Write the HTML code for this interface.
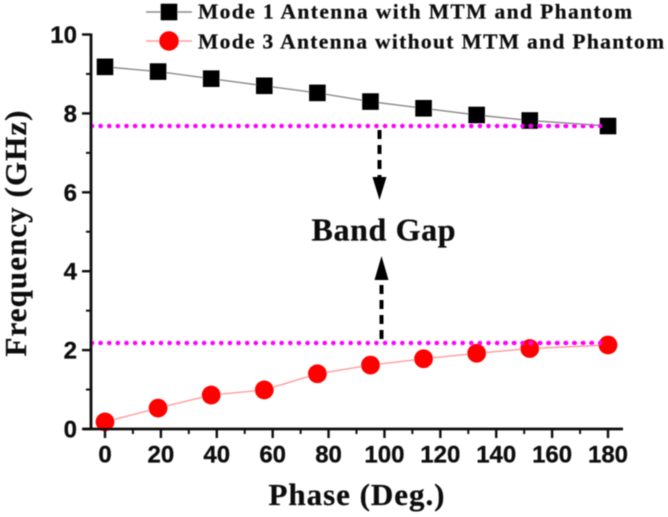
<!DOCTYPE html>
<html>
<head>
<meta charset="utf-8">
<style>
html,body{margin:0;padding:0;background:#fff;width:668px;height:517px;overflow:hidden}
svg{display:block}
.tick{font:bold 24px "Liberation Sans",sans-serif;fill:#111;stroke:#111;stroke-width:.3px}
.ser{font-family:"Liberation Serif",serif;font-weight:bold;fill:#111;stroke:#111;stroke-width:.25px}
</style>
</head>
<body>
<svg id="chart" width="668" height="517" viewBox="0 0 668 517" xmlns="http://www.w3.org/2000/svg">
<defs><filter id="soft" x="-5%" y="-5%" width="110%" height="110%"><feGaussianBlur stdDeviation="0.45"/></filter></defs>
<g id="root" filter="url(#soft)"></g>
</svg>
<script>
const phases = [0, 19, 38, 57, 76, 95, 114, 133, 152, 180];
const mode1Values = [9.18, 9.06, 8.88, 8.70, 8.52, 8.30, 8.13, 7.96, 7.82, 7.68];
const mode3Values = [0.18, 0.53, 0.86, 0.99, 1.40, 1.62, 1.78, 1.92, 2.04, 2.13];
const xTickLabels = [0, 20, 40, 60, 80, 100, 120, 140, 160, 180];
const yTickLabels = [0, 2, 4, 6, 8, 10];
const xMinorTicks = [10, 30, 50, 70, 90, 110, 130, 150, 170];
const yMinorTicks = [1, 3, 5, 7, 9];
const bandEdges = [7.68, 2.18];
const mode1Name = 'Mode 1 Antenna with MTM and Phantom';
const mode3Name = 'Mode 3 Antenna without MTM and Phantom';

const NS = 'http://www.w3.org/2000/svg';
const root = document.getElementById('root');
function sx(v){ return 105 + v * (608 - 105) / 180; }
function sy(v){ return 429 - v * (429 - 34.5) / 10; }
function mk(tag, attrs, text){
  const el = document.createElementNS(NS, tag);
  for (const k in attrs) el.setAttribute(k, attrs[k]);
  if (text !== undefined) el.textContent = text;
  root.appendChild(el);
  return el;
}

// band-edge dotted lines
bandEdges.forEach(function(v){
  const el = mk('line', {x1: 92, x2: sx(180), y1: sy(v), y2: sy(v), stroke: '#ff00ff', 'stroke-width': 4.6, 'stroke-linecap': 'round', 'stroke-dasharray': '0 8.62'});
  
  
});

// series lines
function linePath(vals){
  return vals.map(function(v, i){ return sx(phases[i]).toFixed(1) + ',' + sy(v).toFixed(1); }).join(' ');
}
const l1 = mk('polyline', {points: linePath(mode1Values), fill: 'none', stroke: '#8c8c8c', 'stroke-width': 1.4});


const l3 = mk('polyline', {points: linePath(mode3Values), fill: 'none', stroke: '#ff9c9c', 'stroke-width': 1.4});



// markers
mode1Values.forEach(function(v, i){
  const el = mk('rect', {x: sx(phases[i]) - 8.3, y: sy(v) - 8.3, width: 16.6, height: 16.6, fill: '#000'});
  
  
});
mode3Values.forEach(function(v, i){
  const el = mk('circle', {cx: sx(phases[i]), cy: sy(v), r: 9.4, fill: '#ff0000'});
  
  
});

// redraw the dots over the markers at the right end
bandEdges.forEach(function(v){
  const el = mk('line', {x1: 505, x2: sx(180), y1: sy(v), y2: sy(v), stroke: '#ff00ff', 'stroke-width': 4, 'stroke-linecap': 'round', 'stroke-dasharray': '0 8.62'});
  
  
});

// axes
const yAxis = mk('line', {x1: 91, x2: 91, y1: sy(10) - 1, y2: 430, stroke: '#111', 'stroke-width': 2.8});


const xAxis = mk('line', {x1: 83, x2: 623, y1: 429, y2: 429, stroke: '#111', 'stroke-width': 2.8});



xTickLabels.forEach(function(v){
  const t = mk('line', {x1: sx(v), x2: sx(v), y1: 429, y2: 438, stroke: '#111', 'stroke-width': 2.4});
  
  
  const lb = mk('text', {x: sx(v), y: 462.5, 'text-anchor': 'middle', class: 'tick'}, String(v));
  
  
});
xMinorTicks.forEach(function(v){
  const t = mk('line', {x1: sx(v), x2: sx(v), y1: 429, y2: 434, stroke: '#111', 'stroke-width': 2});
  
  
});
yTickLabels.forEach(function(v){
  const t = mk('line', {x1: 82, x2: 91, y1: sy(v), y2: sy(v), stroke: '#111', 'stroke-width': 2.4});
  
  
  const lb = mk('text', {x: 77, y: sy(v) + 8.5, 'text-anchor': 'end', class: 'tick'}, String(v));
  
  
});
yMinorTicks.forEach(function(v){
  const t = mk('line', {x1: 86, x2: 91, y1: sy(v), y2: sy(v), stroke: '#111', 'stroke-width': 2});
  
  
});

// axis titles
const xt = mk('text', {x: 356.5, y: 505, 'text-anchor': 'middle', class: 'ser', 'font-size': 31, textLength: 176, lengthAdjust: 'spacing'}, 'Phase (Deg.)');


const yt = mk('text', {x: 0, y: 0, 'text-anchor': 'middle', class: 'ser', 'font-size': 31, transform: 'translate(26,233.5) rotate(-90)', textLength: 246, lengthAdjust: 'spacing'}, 'Frequency (GHz)');



// legend
const lg1 = mk('line', {x1: 146, x2: 192, y1: 12, y2: 12, stroke: '#8c8c8c', 'stroke-width': 1.4});


const lm1 = mk('rect', {x: 160.7, y: 3.7, width: 16.6, height: 16.6, fill: '#000'});


const lt1 = mk('text', {x: 198, y: 18.5, class: 'ser', 'font-size': 21.5, textLength: 434, lengthAdjust: 'spacing'}, mode1Name);


const lg3 = mk('line', {x1: 146, x2: 192, y1: 41, y2: 41, stroke: '#ff9c9c', 'stroke-width': 1.4});


const lm3 = mk('circle', {cx: 169, cy: 41, r: 9.8, fill: '#ff0000'});


const lt3 = mk('text', {x: 198, y: 48.5, class: 'ser', 'font-size': 21.5, textLength: 466, lengthAdjust: 'spacing'}, mode3Name);



// band gap annotation
const bg = mk('text', {x: 383.5, y: 240.5, 'text-anchor': 'middle', class: 'ser', 'font-size': 32, textLength: 144, lengthAdjust: 'spacing'}, 'Band Gap');


const a1 = mk('line', {x1: 379.5, x2: 379.5, y1: 130, y2: 178, stroke: '#000', 'stroke-width': 4, 'stroke-dasharray': '9 6'});


const h1 = mk('polygon', {points: '372.5,177 386.5,177 379.5,200', fill: '#000'});


const a2 = mk('line', {x1: 381.5, x2: 381.5, y1: 339, y2: 280, stroke: '#000', 'stroke-width': 4, 'stroke-dasharray': '9 6'});


const h2 = mk('polygon', {points: '374.5,280 388.5,280 381.5,256', fill: '#000'});


</script>
</body>
</html>
